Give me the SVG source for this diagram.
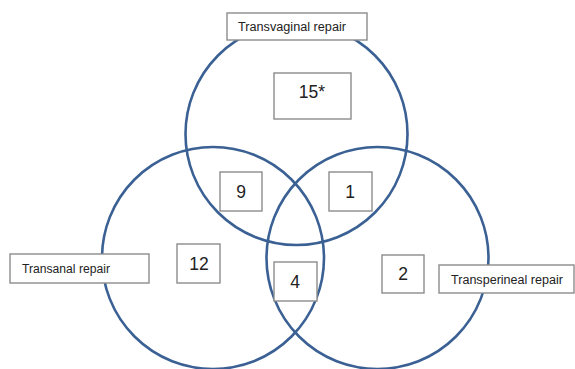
<svg xmlns="http://www.w3.org/2000/svg" width="575" height="369" viewBox="0 0 575 369">
<style>
.c{fill:none;stroke:#3a6094;stroke-width:2.6}
.b{fill:#fff;stroke:#8c8c8c;stroke-width:1.4}
.l{font-family:"Liberation Sans",Arial,sans-serif;font-size:12.5px;fill:#222}
.n{font-family:"Liberation Sans",Arial,sans-serif;font-size:17.5px;fill:#222;text-anchor:middle}
</style>
<rect width="575" height="369" fill="#fff"/>
<g id="circles">
<circle id="c-transvaginal" class="c" cx="296.5" cy="134" r="111"/>
<circle id="c-transanal" class="c" cx="213" cy="258" r="111"/>
<circle id="c-transperineal" class="c" cx="377.5" cy="258" r="111"/>
</g>
<g id="label-transvaginal"><rect class="b" x="227" y="13" width="140" height="27"/><text class="l" x="238" y="30.5" textLength="108" lengthAdjust="spacingAndGlyphs">Transvaginal repair</text></g>
<g id="label-transanal"><rect class="b" x="10" y="254" width="139" height="29"/><text class="l" x="22" y="272.5" textLength="88" lengthAdjust="spacingAndGlyphs">Transanal repair</text></g>
<g id="label-transperineal"><rect class="b" x="439" y="265" width="135" height="28"/><text class="l" x="451" y="283.5" textLength="112" lengthAdjust="spacingAndGlyphs">Transperineal repair</text></g>
<g id="n15"><rect class="b" x="274" y="73" width="77" height="46"/><text class="n" x="312" y="98">15*</text></g>
<g id="n9"><rect class="b" x="220" y="172" width="42" height="39"/><text class="n" x="241" y="198">9</text></g>
<g id="n1"><rect class="b" x="329" y="172" width="43" height="39"/><text class="n" x="350" y="198">1</text></g>
<g id="n12"><rect class="b" x="177" y="244" width="43" height="39"/><text class="n" x="199" y="270">12</text></g>
<g id="n4"><rect class="b" x="274" y="262" width="43" height="39"/><text class="n" x="295" y="288">4</text></g>
<g id="n2"><rect class="b" x="382" y="255" width="42" height="38"/><text class="n" x="403" y="280">2</text></g>
</svg>
